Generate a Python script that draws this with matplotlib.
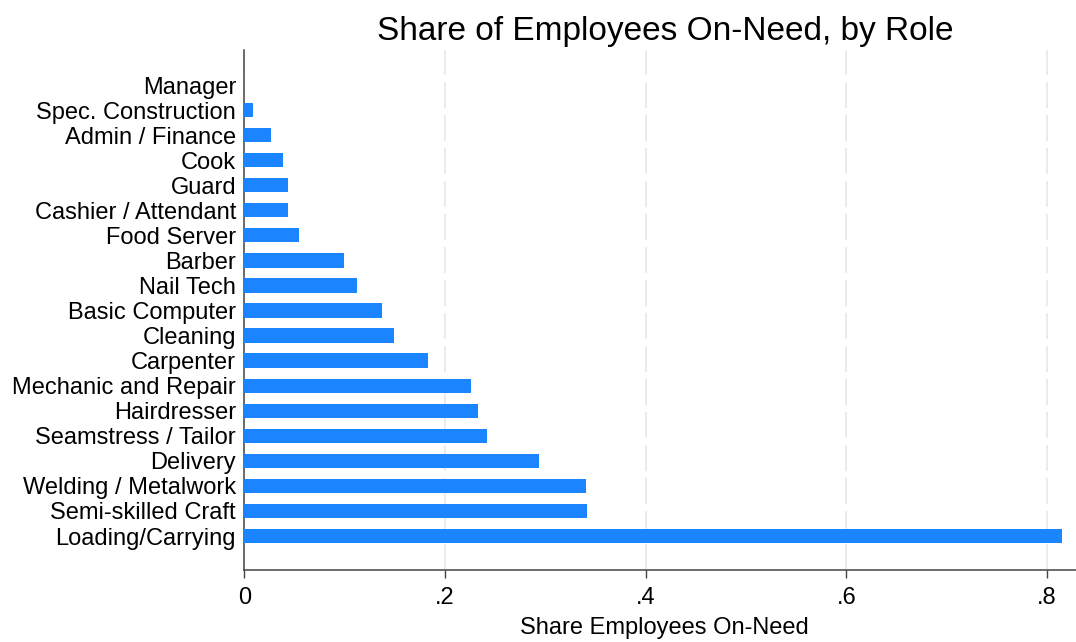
import matplotlib
matplotlib.use("Agg")
import matplotlib.pyplot as plt

roles = ["Loading/Carrying", "Semi-skilled Craft", "Welding / Metalwork", "Delivery",
         "Seamstress / Tailor", "Hairdresser", "Mechanic and Repair", "Carpenter",
         "Cleaning", "Basic Computer", "Nail Tech", "Barber", "Food Server",
         "Cashier / Attendant", "Guard", "Cook", "Admin / Finance",
         "Spec. Construction", "Manager"]
shares = [0.815, 0.341, 0.340, 0.294, 0.242, 0.233, 0.226, 0.183, 0.149, 0.137,
          0.112, 0.099, 0.054, 0.043, 0.043, 0.039, 0.027, 0.009, 0.0]
xticks = [0, 0.2, 0.4, 0.6, 0.8]
xtick_labels = ["0", ".2", ".4", ".6", ".8"]

plt.rcParams['font.family'] = ['Liberation Sans', 'DejaVu Sans']

fig = plt.figure(figsize=(10.76, 6.42), dpi=100)
ax = fig.add_axes([0.2271, 0.1121, 0.7729, 0.81])

pos = list(range(len(roles)))
ax.barh(pos, shares, height=0.57, color="#1a85ff", zorder=3)

ax.set_xlim(0, 0.8288)
ax.set_ylim(-1.357, 19.397)
ax.set_yticks(pos)
ax.set_yticklabels(roles, fontsize=17)
ax.tick_params(axis='y', length=0, pad=6)
ax.set_xticks(xticks)
ax.set_xticklabels(xtick_labels, fontsize=17)
ax.tick_params(axis='x', length=5.5, width=1.0, color="#444444", pad=7)

ax.grid(axis='x', color="#e8e8e8", linewidth=1.2, linestyle=(0, (15.6, 4.2)), zorder=0)
ax.set_axisbelow(True)

for s in ["top", "right"]:
    ax.spines[s].set_visible(False)
for s in ["left", "bottom"]:
    ax.spines[s].set_color("#444444")
    ax.spines[s].set_linewidth(1.1)

fig.text(0.6185, 0.951, "Share of Employees On-Need, by Role", fontsize=24,
         ha='center', va='center')
fig.text(0.617, 0.022, "Share Employees On-Need", fontsize=17, ha='center', va='center')

fig.savefig("out.png", dpi=100)
